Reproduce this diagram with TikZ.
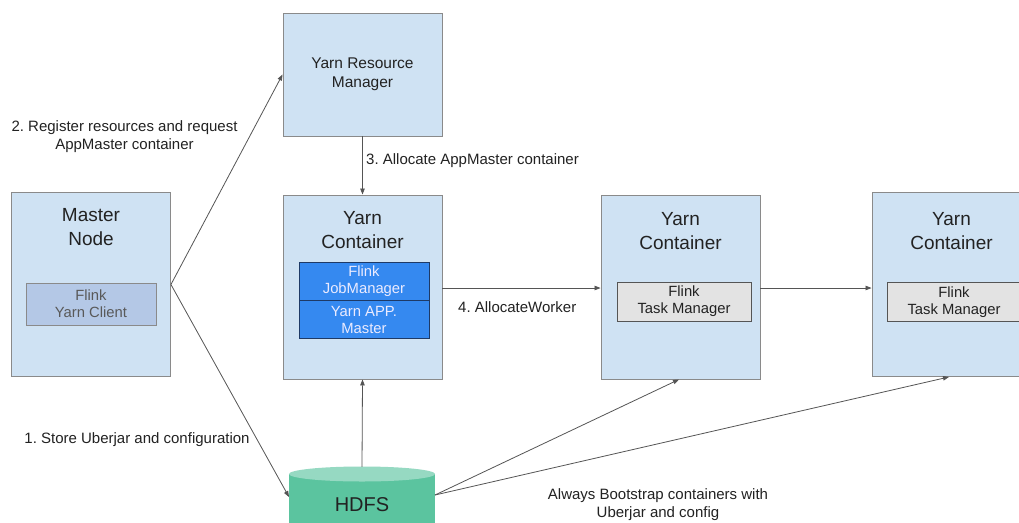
\documentclass[tikz,border=0pt]{standalone}
\usepackage{fontspec}
\setmainfont{Liberation Sans}
\frenchspacing
\usetikzlibrary{arrows.meta,calc}
\definecolor{boxfill}{HTML}{CFE2F3}
\definecolor{boxline}{HTML}{8A8A8A}
\definecolor{clientfill}{HTML}{B4C8E6}
\definecolor{jmfill}{HTML}{3589F0}
\definecolor{jmline}{HTML}{1E3A66}
\definecolor{tmfill}{HTML}{E3E3E3}
\definecolor{tmline}{HTML}{555555}
\definecolor{hdfsbody}{HTML}{5BC49F}
\definecolor{hdfstop}{HTML}{96D9C2}
\definecolor{arr}{HTML}{555555}
\definecolor{txt}{HTML}{222222}
\tikzset{
  bigbox/.style={draw=boxline, fill=boxfill, line width=0.9pt, minimum width=159pt, minimum height=184pt, inner sep=0pt},
  rmbox/.style={draw=boxline, fill=boxfill, line width=0.9pt, minimum width=159pt, minimum height=123pt, inner sep=0pt, align=center, font=\fontsize{15.5}{19}\selectfont, text=txt},
  title/.style={align=center, font=\fontsize{19}{24}\selectfont, text=txt},
  client/.style={draw=boxline, fill=clientfill, line width=0.8pt, minimum width=130pt, minimum height=42pt, inner sep=0pt, align=center, font=\fontsize{14.8}{17}\selectfont, text=black!65},
  jm/.style={draw=jmline, fill=jmfill, line width=0.8pt, minimum width=130pt, minimum height=38pt, inner sep=0pt, align=center, font=\fontsize{14.8}{17}\selectfont, text=white!92!blue},
  tm/.style={draw=tmline, fill=tmfill, line width=0.8pt, minimum width=134pt, minimum height=39pt, inner sep=0pt, align=center, font=\fontsize{14.8}{17}\selectfont, text=txt},
  lbl/.style={align=center, font=\fontsize{15}{18}\selectfont, text=txt, inner sep=0pt},
  conn/.style={draw=arr, line width=0.8pt, -{Triangle[length=6pt,width=4.5pt]}},
}
\begin{document}
\begin{tikzpicture}[x=1pt,y=-1pt]
\useasboundingbox (0,0) rectangle (1019,522);
\clip (0,0) rectangle (1019,522);
\fill[white] (0,0) rectangle (1019,522);

% boxes
\node[rmbox] (rm) at (362.5,74.5) {Yarn Resource\\Manager};
\node[bigbox] (mn) at (91,284.5) {};
\node[title] (mnt) at (91,227) {Master\\Node};
\node[client] (cl) at (91,304) {Flink\\Yarn Client};

\node[bigbox] (c1) at (362.5,287) {};
\node[title] (c1t) at (362.5,230) {Yarn\\Container};
\node[jm] (jm) at (364,281.5) {Flink\\JobManager};
\node[jm] (am) at (364,319.5) {Yarn APP.\\Master};

\node[bigbox] (c2) at (680.5,287) {};
\node[title] (c2t) at (680.5,231) {Yarn\\Container};
\node[tm] (tm2) at (684,301.5) {Flink\\Task Manager};

\node[bigbox] (c3) at (951.5,284.5) {};
\node[title] (c3t) at (951.5,231) {Yarn\\Container};
\node[tm] (tm3) at (954,302) {Flink\\Task Manager};

% HDFS cylinder
\fill[hdfsbody] (289,474) -- (289,540) -- (435,540) -- (435,474) -- cycle;
\fill[hdfstop] (362,474) ellipse (73pt and 7.5pt);
\node[minimum width=146pt, minimum height=76pt, inner sep=0pt, font=\fontsize{20}{22}\selectfont, text=txt] (hdfs) at (362,505) {HDFS};
\coordinate (hdfsL) at (289,497);
\coordinate (hdfsR) at (435,495);

% connectors
\draw[conn] (mn.east) -- (rm.west);
\draw[conn] (mn.east) -- (hdfsL);
\draw[conn] (rm.south) -- (c1.north);
\draw[conn] (hdfs.north) -- (c1.south);
\draw[conn] (c1.east |- 0,288) -- (c2.west |- 0,288);
\draw[conn] (c2.east |- 0,288) -- (c3.west |- 0,288);
\draw[conn] (hdfsR) -- (c2.south -| 679,0);
\draw[conn] (hdfsR) -- (c3.south -| 949,0);

% labels
\node[lbl] (l2) at (124.5,137) {2. Register resources and request\\AppMaster container};
\node[lbl, anchor=west] (l3) at (366,161) {3. Allocate AppMaster container};
\node[lbl, anchor=west] (l4) at (458,307) {4. AllocateWorker};
\node[lbl] (l1) at (137,440) {1. Store Uberjar and configuration};
\node[lbl] (lb) at (658,505) {Always Bootstrap containers with\\Uberjar and config};
\end{tikzpicture}
\end{document}
